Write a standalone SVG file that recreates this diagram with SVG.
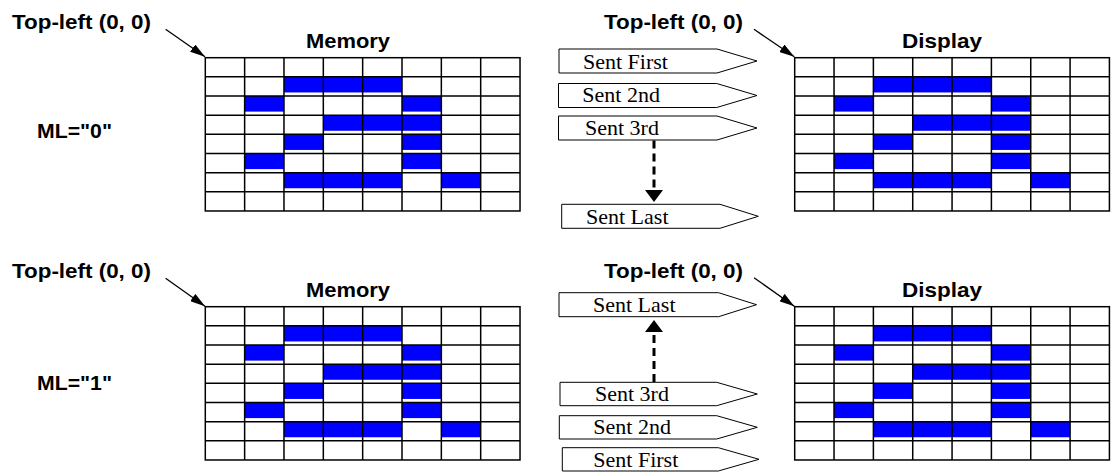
<svg xmlns="http://www.w3.org/2000/svg" xmlns:xlink="http://www.w3.org/1999/xlink" width="1114" height="472" viewBox="0 0 1114 472">
<style>
.lbl{font-family:"Liberation Sans",Arial,sans-serif;font-weight:bold;font-size:21px;fill:#000}
.tag{fill:#fff;stroke:#000;stroke-width:1}
.tagt{font-family:"Liberation Serif","Times New Roman",serif;font-size:22px;fill:#000}
.gl{stroke:#000;stroke-width:1.5;fill:none}
.px{fill:#0000FF}
.ptr{stroke:#000;stroke-width:1.3;fill:none}
.dash{stroke:#000;stroke-width:3;stroke-dasharray:8 5;fill:none}
</style>
<defs>
<marker id="ah" markerUnits="userSpaceOnUse" viewBox="0 0 15 9" markerWidth="15" markerHeight="9" refX="15" refY="4.5" orient="auto">
<path d="M0,0 L15,4.5 L0,9 z" fill="#000"/>
</marker>
<marker id="dh" markerUnits="userSpaceOnUse" viewBox="0 0 12 18" markerWidth="12" markerHeight="18" refX="0" refY="9" orient="auto">
<path d="M0,0 L12,9 L0,18 z" fill="#000"/>
</marker>
<g id="grid">
<rect class="px" x="78.68" y="19.16" width="118.02" height="15.6"/>
<rect class="px" x="39.34" y="38.32" width="39.34" height="15.6"/>
<rect class="px" x="196.7" y="38.32" width="39.34" height="15.6"/>
<rect class="px" x="118.02" y="57.48" width="118.02" height="15.6"/>
<rect class="px" x="78.68" y="76.64" width="39.34" height="15.6"/>
<rect class="px" x="196.7" y="76.64" width="39.34" height="15.6"/>
<rect class="px" x="39.34" y="95.8" width="39.34" height="15.6"/>
<rect class="px" x="196.7" y="95.8" width="39.34" height="15.6"/>
<rect class="px" x="78.68" y="114.96" width="118.02" height="15.6"/>
<rect class="px" x="236.04" y="114.96" width="39.34" height="15.6"/>
<rect class="gl" x="0" y="0" width="314.72" height="153.28"/>
<path class="gl" d="M39.34,0V153.28M78.68,0V153.28M118.02,0V153.28M157.36,0V153.28M196.7,0V153.28M236.04,0V153.28M275.38,0V153.28M0,19.16H314.72M0,38.32H314.72M0,57.48H314.72M0,76.64H314.72M0,95.8H314.72M0,114.96H314.72M0,134.12H314.72"/>
</g>
</defs>
<rect width="1114" height="472" fill="#fff"/>

<g id="label-topleft-mem-0"><text class="lbl" x="12" y="29" textLength="139" lengthAdjust="spacingAndGlyphs">Top-left (0, 0)</text></g>
<g id="label-memory-0"><text class="lbl" x="306" y="47.5" textLength="84" lengthAdjust="spacingAndGlyphs">Memory</text></g>
<g id="label-ml0"><text class="lbl" x="37" y="138" textLength="75" lengthAdjust="spacingAndGlyphs">ML="0"</text></g>
<g id="grid-memory-0"><use xlink:href="#grid" href="#grid" x="205.3" y="57.7"/></g>
<g id="label-topleft-disp-0"><text class="lbl" x="604" y="29" textLength="139" lengthAdjust="spacingAndGlyphs">Top-left (0, 0)</text></g>
<g id="label-display-0"><text class="lbl" x="902" y="47.5" textLength="80" lengthAdjust="spacingAndGlyphs">Display</text></g>
<g id="grid-display-0"><use xlink:href="#grid" href="#grid" x="794.7" y="57.7"/></g>

<g id="tag-first-0"><polygon class="tag" points="559,49 717,49 757,61 717,73 559,73"/><text class="tagt" x="583" y="69">Sent First</text></g>
<g id="tag-2nd-0"><polygon class="tag" points="558.5,83.5 716.7,83.5 757,95.5 716.7,107.5 558.5,107.5"/><text class="tagt" x="582.3" y="102">Sent 2nd</text></g>
<g id="tag-3rd-0"><polygon class="tag" points="558.5,116 717,116 757,128 717,140 558.5,140"/><text class="tagt" x="585" y="135">Sent 3rd</text></g>
<g id="tag-last-0"><polygon class="tag" points="561.7,204.3 720,204.3 758.3,216.3 720,228.3 561.7,228.3"/><text class="tagt" x="586" y="223.5">Sent Last</text></g>

<g id="label-topleft-mem-1"><text class="lbl" x="12" y="278" textLength="139" lengthAdjust="spacingAndGlyphs">Top-left (0, 0)</text></g>
<g id="label-memory-1"><text class="lbl" x="306" y="296.5" textLength="84" lengthAdjust="spacingAndGlyphs">Memory</text></g>
<g id="label-ml1"><text class="lbl" x="37" y="389.5" textLength="75" lengthAdjust="spacingAndGlyphs">ML="1"</text></g>
<g id="grid-memory-1"><use xlink:href="#grid" href="#grid" x="205.3" y="306.7"/></g>
<g id="label-topleft-disp-1"><text class="lbl" x="604" y="278" textLength="139" lengthAdjust="spacingAndGlyphs">Top-left (0, 0)</text></g>
<g id="label-display-1"><text class="lbl" x="902" y="296.5" textLength="80" lengthAdjust="spacingAndGlyphs">Display</text></g>
<g id="grid-display-1"><use xlink:href="#grid" href="#grid" x="794.7" y="306.7"/></g>

<g id="tag-last-1"><polygon class="tag" points="559,292.7 718.6,292.7 756.5,304.7 718.6,316.7 559,316.7"/><text class="tagt" x="593" y="312">Sent Last</text></g>
<g id="tag-3rd-1"><polygon class="tag" points="560,382.3 716.7,382.3 757.3,394 716.7,405.7 560,405.7"/><text class="tagt" x="595" y="401">Sent 3rd</text></g>
<g id="tag-2nd-1"><polygon class="tag" points="559.3,415.7 716.7,415.7 757.3,427.3 716.7,439 559.3,439"/><text class="tagt" x="593.3" y="433.5">Sent 2nd</text></g>
<g id="tag-first-1"><polygon class="tag" points="562.3,447.7 718.3,447.7 759,459.3 718.3,471 562.3,471"/><text class="tagt" x="593.3" y="466.7">Sent First</text></g>

<g id="connectors">
<line class="ptr" x1="165.6" y1="29.3" x2="205" y2="56.7" marker-end="url(#ah)"/>
<line class="ptr" x1="754" y1="29.3" x2="794.3" y2="56.7" marker-end="url(#ah)"/>
<line class="ptr" x1="165.6" y1="278.3" x2="205" y2="306.2" marker-end="url(#ah)"/>
<line class="ptr" x1="754" y1="277.7" x2="794.3" y2="306.2" marker-end="url(#ah)"/>
<line class="dash" x1="654" y1="140.5" x2="654" y2="190" marker-end="url(#dh)"/>
<line class="dash" x1="654" y1="382" x2="654" y2="332" marker-end="url(#dh)"/>
</g>
</svg>
